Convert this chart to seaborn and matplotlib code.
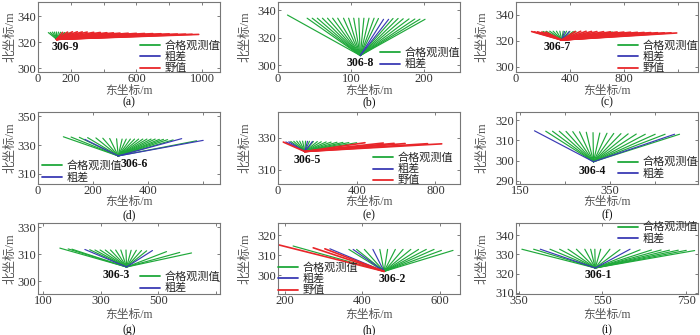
import matplotlib
matplotlib.use("Agg")
import matplotlib.pyplot as plt
from matplotlib.lines import Line2D
import pandas as pd
import seaborn as sns

sns.set_style("ticks")
plt.rcParams["font.family"] = ["Liberation Serif", "Noto Sans CJK SC"]

# ---------------- data (endpoint coordinates of each observation ray) ----------------
CLASSES = ["合格观测值", "粗差", "野值"]
COLORS = {"合格观测值": "#1fa83a", "粗差": "#3a3ab4", "野值": "#e8262a"}

# (a) 306-9
A_STATION = (114, 322.2)
A_GOOD_X = [63, 75, 88, 100, 112, 125, 138, 150, 163, 176, 190, 205]
A_GOOD_Y = [327.4, 327.6, 327.8, 327.8, 327.9, 327.8, 327.7, 327.6, 327.5, 327.4, 327.2, 327.0]
A_BLUE_X = []
A_BLUE_Y = []
A_RED_X = [150, 180, 210, 240, 270, 300, 340, 380, 420, 460, 500, 550, 600, 650, 700, 750, 800, 850, 900, 940, 980]
A_RED_Y = [327.5, 327.8, 328.0, 328.0, 327.9, 327.8, 327.6, 327.5, 327.3, 327.2, 327.0, 326.9,
           326.8, 326.7, 326.6, 326.5, 326.4, 326.3, 326.2, 326.1, 326.0]

# (b) 306-8
B_STATION = (113, 307)
B_GOOD_X = [13, 40, 47, 54, 61, 68, 75, 82, 90, 97, 104, 111, 118, 125, 132, 138, 158, 165, 172, 180, 188, 195, 202]
B_GOOD_Y = [336.5, 334.2, 334.2, 334.2, 334.2, 334.2, 334.2, 334.2, 334.2, 334.2, 334.2, 334.2,
            334.2, 334.2, 334.2, 334.0, 334.0, 334.0, 333.8, 333.7, 333.6, 333.5, 333.4]
B_BLUE_X = [145, 152]
B_BLUE_Y = [333.4, 333.4]
B_RED_X = []
B_RED_Y = []

# (c) 306-7
C_STATION = (339, 320.7)
C_GOOD_X = [200, 225, 250, 275, 300, 325, 350, 375, 400, 425, 445, 715]
C_GOOD_Y = [327.3, 327.4, 327.5, 327.5, 327.5, 327.5, 327.5, 327.5, 327.4, 327.3, 327.2, 326.8]
C_BLUE_X = [360, 395]
C_BLUE_Y = [327.2, 327.2]
C_RED_X = [116, 135, 160, 190, 220, 440, 480, 520, 560, 600, 650, 700, 750, 800, 850, 900, 950,
           1000, 1050, 1100, 1150, 1192]
C_RED_Y = [327.2, 327.0, 327.0, 326.8, 326.8, 327.3, 327.4, 327.4, 327.3, 327.2, 327.1, 327.0,
           326.9, 326.8, 326.7, 326.6, 326.5, 326.4, 326.3, 326.2, 326.2, 326.1]

# (d) 306-6
D_STATION = (291, 322.5)
D_GOOD_X = [92, 120, 150, 180, 210, 235, 260, 285, 305, 320, 335, 350, 365, 380, 395, 410, 425,
            440, 455, 470, 490, 575]
D_GOOD_Y = [335.8, 335.6, 335.4, 335.2, 335.0, 334.8, 334.6, 334.4, 334.2, 334.2, 334.2, 334.2,
            334.2, 334.2, 334.2, 334.2, 334.2, 334.0, 334.0, 333.8, 333.6, 333.0]
D_BLUE_X = [170, 521, 599]
D_BLUE_Y = [334.0, 334.5, 333.3]
D_RED_X = []
D_RED_Y = []

# (e) 306-5
E_STATION = (136, 321.3)
E_GOOD_X = [65, 80, 95, 110, 125, 140, 160, 180, 200, 220, 245, 270, 300, 330, 360, 400]
E_GOOD_Y = [327.6, 327.7, 327.8, 327.8, 327.8, 327.8, 327.7, 327.6, 327.5, 327.4, 327.3, 327.2,
            327.1, 327.0, 326.9, 326.8]
E_BLUE_X = [40, 55, 150, 175]
E_BLUE_Y = [327.3, 327.4, 327.7, 327.6]
E_RED_X = [27, 442, 535, 590, 646, 760, 832]
E_RED_Y = [327.2, 326.8, 326.6, 326.4, 326.3, 326.2, 326.1]

# (f) 306-4
F_STATION = (313, 299.4)
F_GOOD_X = [207, 222, 237, 252, 267, 282, 297, 312, 327, 343, 358, 374, 390, 408, 428, 450, 472, 504]
F_GOOD_Y = [314.5, 314.5, 314.5, 314.4, 314.3, 314.2, 314.0, 313.8, 313.6, 313.5, 313.4, 313.3,
            313.2, 313.1, 313.0, 313.0, 313.0, 313.0]
F_BLUE_X = [182, 493]
F_BLUE_Y = [314.7, 313.0]
F_RED_X = []
F_RED_Y = []

# (g) 306-3
G_STATION = (390, 305.3)
G_GOOD_X = [158, 187, 200, 262, 280, 298, 316, 334, 352, 370, 388, 406, 424, 442, 460, 529, 575, 616]
G_GOOD_Y = [312.3, 312.0, 311.9, 311.7, 311.6, 311.6, 311.6, 311.6, 311.6, 311.6, 311.6, 311.5,
            311.5, 311.4, 311.3, 311.0, 310.7, 310.5]
G_BLUE_X = [245, 480]
G_BLUE_Y = [311.8, 311.4]
G_RED_X = []
G_RED_Y = []

# (h) 306-2
H_STATION = (456, 302)
H_GOOD_X = [221, 365, 385, 405, 445, 465, 485, 505, 525, 545, 565, 585, 604, 634]
H_GOOD_Y = [314.7, 313.0, 313.0, 313.0, 313.0, 313.0, 313.0, 313.0, 313.0, 313.0, 313.0, 313.0, 312.5, 312.5]
H_BLUE_X = [316, 376, 427]
H_BLUE_Y = [313.3, 313.0, 313.0]
H_RED_X = [183, 273, 303]
H_RED_Y = [315.3, 313.8, 313.3]

# (i) 306-1
I_STATION = (533, 322.9)
I_GOOD_X = [358, 386, 425, 448, 468, 488, 508, 522, 532, 546, 568, 592, 640, 667, 690, 710, 731, 750, 770]
I_GOOD_Y = [332.7, 332.7, 332.7, 332.7, 332.7, 332.7, 332.7, 332.7, 332.7, 332.7, 332.7, 332.5,
            332.4, 332.3, 332.3, 332.2, 332.2, 332.1, 332.0]
I_BLUE_X = [402, 616]
I_BLUE_Y = [332.7, 332.7]
I_RED_X = []
I_RED_Y = []

NAMES = ["306-9", "306-8", "306-7", "306-6", "306-5", "306-4", "306-3", "306-2", "306-1"]
LETTERS = ["(a)", "(b)", "(c)", "(d)", "(e)", "(f)", "(g)", "(h)", "(i)"]

X_TICKS = [[0, 200, 400, 600, 800, 1000], [0, 100, 200], [0, 400, 800, 1200],
           [0, 200, 400, 600], [0, 400, 800], [150, 250, 350, 450],
           [100, 300, 500, 700], [200, 400, 600], [350, 550, 750]]
X_TICKLABELS = [["0", "200", "", "600", "", "1000"], ["0", "100", "200"], ["0", "400", "800", ""],
                ["0", "200", "400", ""], ["0", "400", "800"], ["150", "", "350", ""],
                ["100", "300", "500", ""], ["200", "400", "600"], ["350", "550", "750"]]
Y_TICKS = [[300, 320, 340], [300, 320, 340], [300, 320, 340],
           [310, 330, 350], [310, 330], [290, 300, 310, 320],
           [300, 310, 320], [300, 310, 320], [310, 320, 330, 340]]
Y_TICKLABELS = [["300", "320", "340"], ["300", "320", "340"], ["300", "320", "340"],
                ["310", "330", "350"], ["310", "330"], ["290", "300", "310", "320"],
                ["300", "310", "330"], ["300", "310", "320"], ["310", "320", "330", "340"]]

# ---------------- layout / style ----------------
XLIMS = [(0, 1110), (0, 250), (0, 1350), (0, 660), (0, 925), (141, 545), (82, 715), (182, 652), (344, 778)]
YLIMS = [(297, 351), (295, 346), (296, 350), (303, 353), (301, 346), (288.4, 324),
         (295.3, 321.6), (290.7, 326.2), (309.3, 346.4)]
LEG = [("lower right", (1.0, -0.02)), ("lower right", (1.0, 0.04)), ("lower right", (1.0, -0.02)),
       ("lower left", (0.02, 0.02)), ("lower right", (0.96, -0.02)), ("lower right", (1.0, 0.07)),
       ("lower right", (1.0, 0.01)), ("lower left", (0.0, -0.02)), ("upper right", (1.0, 1.02))]
LABEL_OFF = [(6, -5.3), (0, -5.3), (-3.6, -4.8), (11.3, -5.8), (1.7, -6), (-0.7, -6.5),
             (-7.2, -6), (5.8, -5.3), (2.4, -5.3)]
RED_LW = 1.2

PANELS = [
    (A_STATION, A_GOOD_X, A_GOOD_Y, A_BLUE_X, A_BLUE_Y, A_RED_X, A_RED_Y),
    (B_STATION, B_GOOD_X, B_GOOD_Y, B_BLUE_X, B_BLUE_Y, B_RED_X, B_RED_Y),
    (C_STATION, C_GOOD_X, C_GOOD_Y, C_BLUE_X, C_BLUE_Y, C_RED_X, C_RED_Y),
    (D_STATION, D_GOOD_X, D_GOOD_Y, D_BLUE_X, D_BLUE_Y, D_RED_X, D_RED_Y),
    (E_STATION, E_GOOD_X, E_GOOD_Y, E_BLUE_X, E_BLUE_Y, E_RED_X, E_RED_Y),
    (F_STATION, F_GOOD_X, F_GOOD_Y, F_BLUE_X, F_BLUE_Y, F_RED_X, F_RED_Y),
    (G_STATION, G_GOOD_X, G_GOOD_Y, G_BLUE_X, G_BLUE_Y, G_RED_X, G_RED_Y),
    (H_STATION, H_GOOD_X, H_GOOD_Y, H_BLUE_X, H_BLUE_Y, H_RED_X, H_RED_Y),
    (I_STATION, I_GOOD_X, I_GOOD_Y, I_BLUE_X, I_BLUE_Y, I_RED_X, I_RED_Y),
]

W, H = 700, 335
COL_LEFT = [38, 278, 516]
ROW_TOP = [2, 112, 223]
ROW_BOT = [72, 184, 294]
AX_W = 182
XLABEL_OFF = [19, 18.5, 21]
LETTER_OFF = [30.5, 31.5, 36.5]
YLABEL_X = [-0.15, -0.18, -0.185]

fig = plt.figure(figsize=(W / 100, H / 100), dpi=100)

for k, (station, gx, gy, bx, by, rx, ry) in enumerate(PANELS):
    r, c = divmod(k, 3)
    top, bot = ROW_TOP[r], ROW_BOT[r]
    ax = fig.add_axes([COL_LEFT[c] / W, 1 - bot / H, AX_W / W, (bot - top) / H])

    rows = []
    for cls, xs, ys in zip(CLASSES, [gx, bx, rx], [gy, by, ry]):
        for i, (x, y) in enumerate(zip(xs, ys)):
            rid = f"{cls}{i}"
            rows.append({"x": station[0], "y": station[1], "ray": rid, "cls": cls})
            rows.append({"x": x, "y": y, "ray": rid, "cls": cls})
    df = pd.DataFrame(rows)
    for cls in CLASSES:
        sub = df[df["cls"] == cls]
        if sub.empty:
            continue
        sns.lineplot(data=sub, x="x", y="y", units="ray", estimator=None, sort=False,
                     color=COLORS[cls], lw=RED_LW if cls == "野值" else 0.85,
                     legend=False, ax=ax)

    ax.set_xlim(*XLIMS[k])
    ax.set_ylim(*YLIMS[k])
    ax.set_xticks(X_TICKS[k])
    ax.set_xticklabels(X_TICKLABELS[k])
    ax.set_yticks(Y_TICKS[k])
    ax.set_yticklabels(Y_TICKLABELS[k])
    ax.tick_params(direction="in", length=2.5, width=0.6, color="#666666", labelsize=9,
                   labelcolor="#333333", top=True, right=True, pad=1)
    for sp in ax.spines.values():
        sp.set_color("#777777")
        sp.set_linewidth(0.8)

    ax.set_xlabel("东坐标/m", fontsize=8.5, color="#555555", va="center")
    ax.xaxis.set_label_coords(0.5, -XLABEL_OFF[r] / (bot - top))
    ax.set_ylabel("北坐标/m", fontsize=9, color="#555555", va="center")
    ax.yaxis.set_label_coords(YLABEL_X[c], 0.5)
    ax.text(0.5, -LETTER_OFF[r] / (bot - top), LETTERS[k], transform=ax.transAxes,
            ha="center", va="center", fontsize=8.5, color="#111111")

    ax.annotate(NAMES[k], xy=station, xytext=LABEL_OFF[k], textcoords="offset points",
                ha="center", va="center", fontsize=8.5, fontweight="bold", color="#111111")

    n_leg = 3 if len(rx) > 0 or k in (0, 2, 4, 7) else 2
    handles = [Line2D([], [], color=COLORS[cl], lw=1.3) for cl in CLASSES[:n_leg]]
    loc, anchor = LEG[k]
    ax.legend(handles, CLASSES[:n_leg], loc=loc, bbox_to_anchor=anchor, frameon=False,
              fontsize=8, handlelength=1.8, handletextpad=0.4, labelspacing=0.12,
              borderpad=0.0, borderaxespad=0, handleheight=0.5)

fig.savefig("out.png", dpi=100)
